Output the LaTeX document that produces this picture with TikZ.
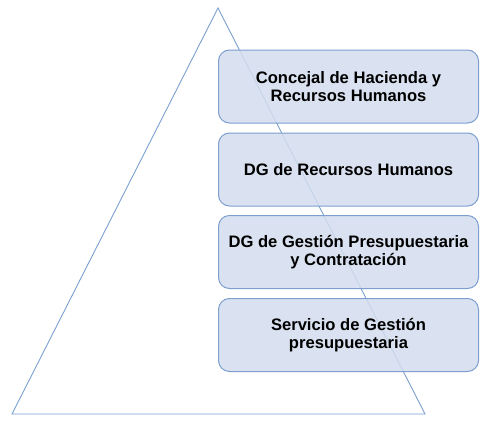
\documentclass[tikz,border=0pt]{standalone}
\usepackage{fontspec}
\setmainfont{Liberation Sans}
\begin{document}
\begin{tikzpicture}[x=1pt,y=-1pt,
  tri/.style={draw=triblue, line width=0.9pt, line join=miter},
  lvl/.style={draw=boxborder, fill=boxfill, fill opacity=0.85, text opacity=1,
    rounded corners=11pt, line width=1pt, minimum width=260pt, minimum height=73pt,
    inner sep=0pt, align=center, font=\bfseries\fontsize{16.6}{17.5}\selectfont, text=black}]
\definecolor{triblue}{HTML}{7BA0CF}
\definecolor{boxborder}{HTML}{7C9FD0}
\definecolor{boxfill}{HTML}{D3DDEE}
\useasboundingbox (0,0) rectangle (480,423);
\coordinate (apex) at (218,8);
\coordinate (bl) at (12,414);
\coordinate (br) at (425,414);
\draw[tri] (apex) -- (bl) -- (br) -- cycle;
\node[lvl] (b1) at (348.5,86.5) {Concejal de Hacienda y\\Recursos Humanos};
\node[lvl] (b2) at (348.5,169.5) {DG de Recursos Humanos};
\node[lvl] (b3) at (348.5,252) {DG de Gestión Presupuestaria\\y Contratación};
\node[lvl] (b4) at (348.5,335) {Servicio de Gestión\\presupuestaria};
\end{tikzpicture}
\end{document}
